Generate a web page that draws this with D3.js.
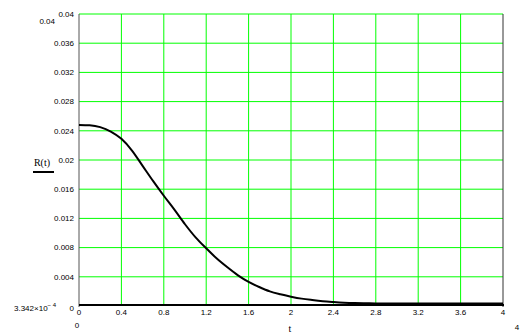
<!DOCTYPE html>
<html>
<head>
<meta charset="utf-8">
<script src="https://cdn.jsdelivr.net/npm/d3@7"></script>
<style>
  body { margin: 0; background: #fff; }
  svg { display: block; }
  .num { font-family: "Liberation Sans", Arial, sans-serif; font-size: 8px; fill: #000; }
  .var { font-family: "Liberation Serif", "Times New Roman", serif; font-size: 10px; fill: #000; }
</style>
</head>
<body>
<div id="chart"></div>
<script>
const width = 522, height = 333;

// R(t)
const tValues = [0, 0.1, 0.2, 0.3, 0.4, 0.5, 0.6, 0.7, 0.8, 0.9, 1.0, 1.1, 1.2, 1.3, 1.4,
  1.5, 1.6, 1.7, 1.8, 1.9, 2.0, 2.1, 2.2, 2.3, 2.4, 2.5, 2.6, 2.7, 2.8, 3.0, 3.2, 3.6, 4.0];
const rValues = [0.0248, 0.02475, 0.0245, 0.0239, 0.0229, 0.0213, 0.0192, 0.0171, 0.0151, 0.0132,
  0.0112, 0.0094, 0.0079, 0.0065, 0.0053, 0.0042, 0.0033, 0.0026, 0.0020, 0.0016, 0.00128,
  0.00101, 0.00082, 0.00066, 0.00055, 0.00046, 0.00040, 0.00037, 0.00035, 0.00034, 0.000336,
  0.000335, 0.000334];

const xTicks = [0, 0.4, 0.8, 1.2, 1.6, 2, 2.4, 2.8, 3.2, 3.6, 4];
const yTicks = [0, 0.004, 0.008, 0.012, 0.016, 0.02, 0.024, 0.028, 0.032, 0.036, 0.04];

const svg = d3.select("#chart").append("svg")
  .attr("width", width)
  .attr("height", height);

const x = d3.scaleLinear().domain([0, 4]).range([79, 503]);
const y = d3.scaleLinear().domain([0, 0.04]).range([306, 14]);

// grid
svg.append("g").selectAll("line")
  .data(xTicks.slice(1, -1))
  .join("line")
  .attr("x1", d => x(d)).attr("x2", d => x(d))
  .attr("y1", y(0.04)).attr("y2", y(0))
  .attr("stroke", "#00ff00").attr("stroke-width", 1);

svg.append("g").selectAll("line")
  .data(yTicks.slice(1))
  .join("line")
  .attr("x1", x(0)).attr("x2", x(4))
  .attr("y1", d => y(d)).attr("y2", d => y(d))
  .attr("stroke", "#00ff00").attr("stroke-width", 1);

// frame
svg.append("line")
  .attr("x1", x(0)).attr("x2", x(0)).attr("y1", y(0.04)).attr("y2", y(0) + 1)
  .attr("stroke", "#555").attr("stroke-width", 1);
svg.append("line")
  .attr("x1", x(4)).attr("x2", x(4)).attr("y1", y(0.04)).attr("y2", y(0) + 1)
  .attr("stroke", "#333").attr("stroke-width", 1);
svg.append("line")
  .attr("x1", x(0)).attr("x2", x(4) + 1).attr("y1", y(0) - 1).attr("y2", y(0) - 1)
  .attr("stroke", "#000").attr("stroke-width", 2);

// curve
const data = tValues.map((t, i) => ({ t: t, r: rValues[i] }));
svg.append("path")
  .datum(data)
  .attr("fill", "none")
  .attr("stroke", "#000")
  .attr("stroke-width", 2)
  .attr("d", d3.line().x(d => x(d.t)).y(d => y(d.r)).curve(d3.curveMonotoneX));

// tick labels
svg.append("g").selectAll("text")
  .data(yTicks)
  .join("text")
  .attr("class", "num")
  .attr("x", d => d === 0 ? 74 : 74)
  .attr("y", d => d === 0 ? y(d) + 2 : y(d))
  .attr("dy", "0.35em")
  .attr("text-anchor", "end")
  .text(d => d3.format("")(+d.toFixed(3)));

svg.append("g").selectAll("text")
  .data(xTicks)
  .join("text")
  .attr("class", "num")
  .attr("x", d => x(d))
  .attr("y", 312)
  .attr("dy", "0.35em")
  .attr("text-anchor", "middle")
  .text(d => d);

// axis limits
svg.append("text").attr("class", "num")
  .attr("x", 55).attr("y", 21).attr("dy", "0.35em")
  .attr("text-anchor", "end").text("0.04");

const lo = svg.append("text").attr("class", "num")
  .attr("x", 14).attr("y", 308).attr("dy", "0.35em");
lo.append("tspan").text("3.342×10");
lo.append("tspan").attr("dy", "-4").attr("font-size", "6px").text("− 4");

svg.append("text").attr("class", "num")
  .attr("x", 77).attr("y", 325).attr("dy", "0.35em")
  .attr("text-anchor", "middle").text("0");
svg.append("text").attr("class", "num")
  .attr("x", 517).attr("y", 327).attr("dy", "0.35em")
  .attr("text-anchor", "middle").text("4");

// axis titles
svg.append("text").attr("class", "var")
  .attr("x", 290).attr("y", 328).attr("dy", "0.35em")
  .attr("text-anchor", "middle").text("t");

svg.append("text").attr("class", "var")
  .attr("x", 42).attr("y", 162).attr("dy", "0.35em")
  .attr("text-anchor", "middle").text("R(t)");
svg.append("line")
  .attr("x1", 33).attr("x2", 54).attr("y1", 172).attr("y2", 172)
  .attr("stroke", "#000").attr("stroke-width", 2);
</script>
</body>
</html>
